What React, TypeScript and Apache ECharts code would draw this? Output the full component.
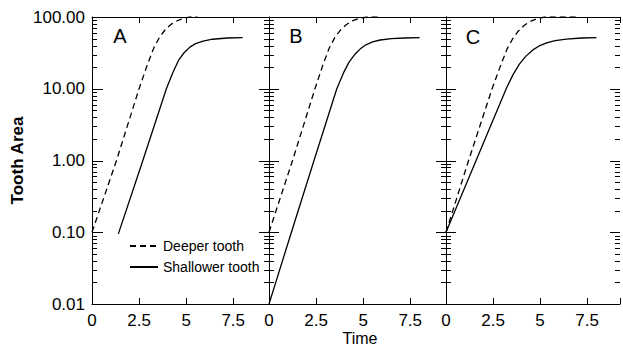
import React, { useEffect, useRef } from "react";
import * as echarts from "echarts";

// ---- data (time, tooth area) ----
const deeperA: [number, number][] = [[0, 0.1], [1.3, 1], [2.5, 10], [2.95, 22], [3.3, 38], [3.6, 53], [3.9, 67], [4.2, 79], [4.5, 88], [4.8, 95], [5.2, 100], [5.6, 100]];
const shallowerA: [number, number][] = [[1.4, 0.095], [2.7, 1], [3.95, 10], [4.3, 17], [4.6, 25], [4.9, 32], [5.2, 38], [5.5, 42.5], [5.9, 46], [6.4, 49], [7.2, 51], [8, 51.5]];
const deeperB: [number, number][] = [[0, 0.1], [1.25, 1], [2.44, 10], [2.85, 21], [3.2, 37], [3.5, 52], [3.8, 66], [4.1, 78], [4.4, 88], [4.75, 95], [5.2, 100], [5.8, 100]];
const shallowerB: [number, number][] = [[0, 0.01], [1.19, 0.1], [2.39, 1], [3.6, 10], [3.95, 16.5], [4.25, 23.5], [4.55, 30], [4.85, 36], [5.15, 41], [5.5, 45], [5.9, 47.8], [6.5, 50], [7.2, 51], [8, 51.5]];
const deeperC: [number, number][] = [[0, 0.1], [1.2, 1], [2.45, 10], [2.9, 21], [3.25, 36], [3.55, 50], [3.85, 64], [4.15, 76], [4.45, 86], [4.8, 94], [5.25, 100], [7.1, 100]];
const shallowerC: [number, number][] = [[0, 0.1], [1.6, 1], [3.2, 10], [3.55, 15.5], [3.9, 22], [4.25, 28.5], [4.6, 34.5], [4.95, 39.5], [5.35, 43.5], [5.8, 46.8], [6.4, 49.3], [7.2, 51], [8, 51.5]];

const panelLetters = ["A", "B", "C"];
const xTitle = "Time";
const yTitle = "Tooth Area";
const majorTicks = [0.01, 0.1, 1, 10, 100];
const minorTicks = [
  0.02, 0.03, 0.04, 0.05, 0.06, 0.07, 0.08, 0.09,
  0.2, 0.3, 0.4, 0.5, 0.6, 0.7, 0.8, 0.9,
  2, 3, 4, 5, 6, 7, 8, 9,
  20, 30, 40, 50, 60, 70, 80, 90,
];
const seriesNames = ["Deeper tooth", "Shallower tooth"];

const FONT = "'Liberation Sans', Arial, Helvetica, sans-serif";

export default function App() {
  const ref = useRef<HTMLDivElement>(null);

  useEffect(() => {
    if (!ref.current) return;
    const chart = echarts.init(ref.current, null, { renderer: "svg" });

    const grids = [
      { left: 92, top: 17, width: 177, height: 287 },
      { left: 269, top: 17, width: 177, height: 287 },
      { left: 446, top: 17, width: 174, height: 287 },
    ];
    const xMax = [9.4, 9.4, 9.25];

    const xAxis: any[] = [];
    grids.forEach((_, i) => {
      xAxis.push({
        type: "value", gridIndex: i, position: "bottom", min: 0, max: xMax[i], interval: 2.5,
        axisLine: { show: true, lineStyle: { color: "#000", width: 1 } },
        axisTick: { show: true, inside: true, length: 6, lineStyle: { color: "#000" } },
        axisLabel: {
          show: true, color: "#000", fontSize: 17, fontFamily: FONT, margin: 8,
          formatter: (v: number) => (Math.abs(v / 2.5 - Math.round(v / 2.5)) < 1e-6 ? String(v) : ""),
        },
        splitLine: { show: false },
      });
      xAxis.push({
        type: "value", gridIndex: i, position: "top", min: 0, max: xMax[i], interval: 2.5,
        axisLine: { show: true, lineStyle: { color: "#000", width: 1 } },
        axisTick: { show: true, inside: true, length: 6, lineStyle: { color: "#000" } },
        axisLabel: { show: false },
        splitLine: { show: false },
      });
    });

    const yBase = {
      type: "log", logBase: 10, min: 0.01, max: 100,
      axisLine: { show: true, lineStyle: { color: "#000", width: 1 } },
      axisTick: { show: false },
      splitLine: { show: false },
    };
    const yAxis: any[] = [
      {
        ...yBase, gridIndex: 0, position: "left",
        axisLabel: { show: true, color: "#000", fontSize: 17, fontFamily: FONT, margin: 7, formatter: (v: number) => v.toFixed(2) },
        name: yTitle, nameLocation: "middle", nameGap: 66, nameRotate: 90,
        nameTextStyle: { color: "#000", fontSize: 17, fontWeight: "bold", fontFamily: FONT },
      },
      { ...yBase, gridIndex: 1, position: "left", axisLabel: { show: false } },
      { ...yBase, gridIndex: 2, position: "left", axisLabel: { show: false } },
      { ...yBase, gridIndex: 2, position: "right", axisLabel: { show: false } },
    ];

    const tickData = (xv: number) => [
      ...majorTicks.map((v) => [xv, v, 1]),
      ...minorTicks.map((v) => [xv, v, 0]),
    ];
    // left/right lengths: [minor, major]
    const tickSeries = (xi: number, yi: number, xv: number, left: number[], right: number[]) => ({
      type: "custom", xAxisIndex: xi, yAxisIndex: yi, clip: false, silent: true, z: 5,
      encode: { x: 0, y: 1 },
      data: tickData(xv),
      renderItem: (_p: any, api: any) => {
        const p = api.coord([api.value(0), api.value(1)]);
        const major = api.value(2) === 1;
        const l = major ? left[1] : left[0];
        const r = major ? right[1] : right[0];
        const y = Math.round(p[1]) + 0.5;
        return { type: "line", shape: { x1: p[0] - l, y1: y, x2: p[0] + r, y2: y }, style: { stroke: "#000", lineWidth: 1 } };
      },
    });

    const lineSeries = (name: string, data: [number, number][], xi: number, yi: number, dashed: boolean) => ({
      type: "line", name, data, xAxisIndex: xi, yAxisIndex: yi,
      symbol: "none", showSymbol: false, smooth: false,
      lineStyle: { color: "#000", width: 1.3, type: dashed ? [6, 4] : "solid" },
      itemStyle: { color: "#000" },
      z: 3,
    });

    const series: any[] = [
      lineSeries(seriesNames[0], deeperA, 0, 0, true),
      lineSeries(seriesNames[1], shallowerA, 0, 0, false),
      lineSeries(seriesNames[0], deeperB, 2, 1, true),
      lineSeries(seriesNames[1], shallowerB, 2, 1, false),
      lineSeries(seriesNames[0], deeperC, 4, 2, true),
      lineSeries(seriesNames[1], shallowerC, 4, 2, false),
      tickSeries(0, 0, 0, [0, 0], [5, 11]),
      tickSeries(2, 1, 0, [5, 10], [5, 10]),
      tickSeries(4, 2, 0, [5, 10], [5, 10]),
      tickSeries(4, 3, 9.25, [5, 10], [0, 0]),
    ];

    const letterPos = [[120, 36], [296, 36], [473, 37]];

    chart.setOption({
      animation: false,
      backgroundColor: "#fff",
      grid: grids.map((g) => ({ ...g, containLabel: false })),
      xAxis,
      yAxis,
      series,
      legend: {
        data: seriesNames.map((n) => ({ name: n })),
        orient: "vertical", left: 129, top: 239, padding: 0,
        itemWidth: 28, itemHeight: 14, itemGap: 7,
        itemStyle: { opacity: 0 },
        textStyle: { color: "#000", fontSize: 14, fontFamily: FONT },
        selectedMode: false,
      },
      graphic: [
        ...panelLetters.map((t, i) => ({
          type: "text", x: letterPos[i][0], y: letterPos[i][1],
          style: { text: t, fill: "#000", fontSize: 20, fontFamily: FONT, textAlign: "center", textVerticalAlign: "middle" },
        })),
        {
          type: "text", x: 360, y: 338,
          style: { text: xTitle, fill: "#000", fontSize: 16, fontFamily: FONT, textAlign: "center", textVerticalAlign: "middle" },
        },
      ],
    });

    return () => chart.dispose();
  }, []);

  return <div ref={ref} style={{ position: "absolute", left: 0, top: 0, width: 623, height: 345 }} />;
}
